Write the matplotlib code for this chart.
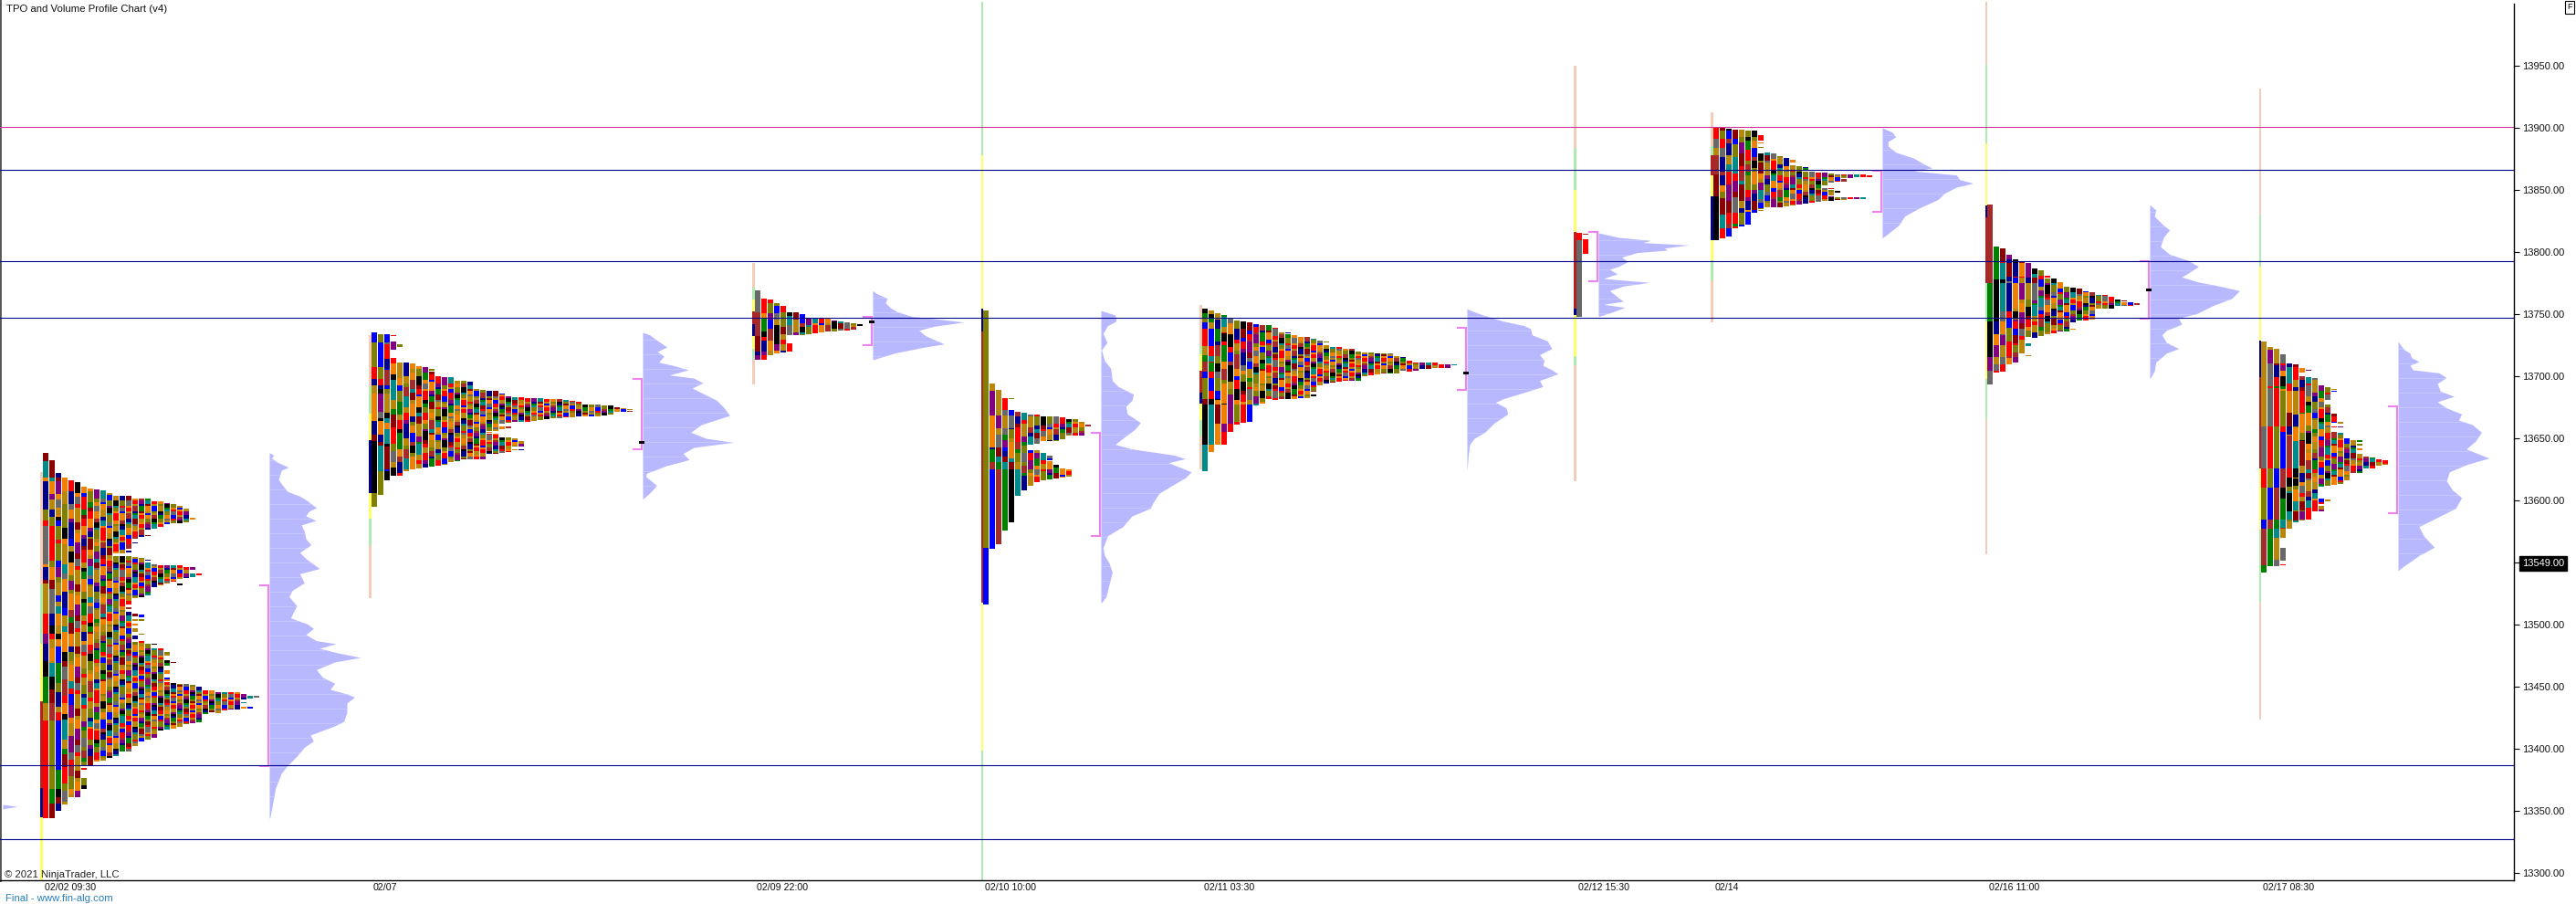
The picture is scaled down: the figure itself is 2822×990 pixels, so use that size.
import numpy as np
from matplotlib import pyplot as plt

plt.rcParams['font.family'] = ['Liberation Sans', 'DejaVu Sans']

# price ticks and fixed levels
price_ticks = [13300, 13350, 13400, 13450, 13500, 13550, 13600, 13650, 13700, 13750, 13800, 13850, 13900, 13950]
level_magenta = [13900.5]
levels_navy = [13865.7, 13792.1, 13746.6, 13386.3, 13326.7]
last_price = 13549.0

# one row is a third of a screen pixel of price, rows are counted down from each profile's base price
ROW = 0.2451
VOL_PER_SLOT = 21.0

slot_labels = ["02/02 09:30", "02/07", "02/09 22:00", "02/10 10:00", "02/11 03:30", "02/12 15:30", "02/14", "02/16 11:00", "02/17 08:30"]

# --------- 02/02
p1_base = 13649.8
p1_slot = 6.714
p1_vp_slot = 42.14
p1_cols = [[(48, 1247)], [(72, 1247)], [(113, 1223)], [(128, 1202)], [(138, 1180)], [(145, 1180)],
           [(158, 1075), (1083, 1088), (1116, 1152)], [(165, 1075)], [(168, 1062)], [(172, 1058)], [(180, 1050)],
           [(190, 378), (388, 1043)], [(189, 378), (388, 1028)], [(189, 345), (335, 362), (368, 375), (388, 545), (554, 560), (570, 1028)],
           [(198, 330), (342, 345), (391, 525), (575, 585), (595, 600), (608, 615), (625, 635), (648, 660), (668, 1010)],
           [(198, 323), (393, 522), (580, 588), (595, 600), (642, 645), (665, 995)],
           [(199, 300), (318, 320), (400, 402), (408, 515), (675, 990)],
           [(207, 296), (415, 490), (675, 678), (690, 985)], [(207, 290), (418, 484), (690, 960)],
           [(213, 282), (418, 478), (703, 714), (730, 746), (762, 773), (786, 798), (802, 958)],
           [(216, 278), (418, 472), (735, 738), (805, 955)], [(222, 278), (418, 462), (478, 482), (806, 948)],
           [(232, 275), (423, 460), (807, 940)], [(261, 266), (423, 432), (445, 456), (810, 935)],
           [(445, 450), (817, 932)], [(829, 905)], [(829, 900)], [(835, 902)], [(835, 895)], [(835, 892)], [(835, 890)],
           [(840, 858), (866, 870), (883, 888)], [(845, 855), (883, 888)], [(846, 851)]]
p1_lead = [(0, 48, 75, 'A'), (0, 75, 128, 'B'), (0, 128, 140, 'H'), (0, 140, 234, 'C'), (0, 234, 270, 'J'), (0, 270, 288, 'G'),
           (0, 288, 414, 'L'), (0, 414, 423, 'H'), (0, 423, 465, 'C'), (0, 465, 478, 'A'), (0, 478, 575, 'I'), (0, 575, 643, 'G'),
           (0, 643, 675, 'F'), (0, 675, 732, 'C'), (0, 732, 783, 'E'), (0, 783, 870, 'K'), (0, 870, 927, 'I'), (0, 927, 1247, 'G'),
           (1, 72, 128, 'A'), (1, 128, 140, 'B'), (1, 140, 183, 'H'), (1, 183, 202, 'F'), (1, 202, 234, 'I'), (1, 234, 258, 'C'),
           (1, 258, 288, 'J'), (1, 288, 402, 'G'), (1, 402, 423, 'J'), (1, 423, 465, 'H'), (1, 465, 495, 'A'), (1, 495, 575, 'L'),
           (1, 575, 615, 'C'), (1, 615, 643, 'E'), (1, 643, 660, 'G'), (1, 660, 690, 'I'), (1, 690, 732, 'H'), (1, 738, 783, 'B'),
           (1, 783, 825, 'E'), (1, 825, 870, 'A'), (1, 870, 927, 'M'), (1, 927, 1152, 'J'), (1, 1152, 1200, 'K'), (1, 1200, 1247, 'A'),
           (2, 113, 128, 'C'), (2, 128, 140, 'A'), (2, 146, 183, 'F'), (2, 200, 228, 'L'), (2, 234, 252, 'I'), (2, 258, 270, 'E'),
           (2, 270, 288, 'D'), (2, 288, 333, 'J'), (2, 333, 345, 'G'), (2, 345, 402, 'J'), (2, 402, 414, 'D'), (2, 423, 456, 'F'),
           (2, 517, 537, 'D'), (2, 537, 552, 'I'), (2, 577, 615, 'H'), (2, 615, 643, 'I'), (2, 928, 1090, 'D'), (2, 1090, 1152, 'K'),
           (2, 1152, 1180, 'E'), (2, 1180, 1200, 'A'), (2, 1200, 1223, 'C')]
p1_vp_row = [48, 55, 65, 78, 95, 105, 120, 135, 150, 175, 190, 205, 215, 228, 240, 255, 270, 285, 305, 330, 350, 375, 395, 410, 428, 445, 475, 500, 520, 550, 590, 610, 625, 645, 665, 675, 690, 705, 720, 735, 760, 785, 805, 825, 840, 850, 870, 900, 930, 945, 975, 995, 1015, 1045, 1075, 1100, 1150, 1190, 1248]
p1_vp_vol = [0, 15, 7, 25, 63, 40, 35, 30, 40, 60, 100, 125, 137, 155, 130, 120, 153, 105, 115, 120, 137, 100, 120, 140, 165, 100, 115, 75, 65, 90, 70, 125, 145, 120, 155, 220, 165, 225, 300, 215, 155, 175, 215, 200, 255, 280, 255, 255, 245, 215, 135, 145, 115, 90, 60, 40, 20, 13, 2]
p1_va = (483, 1077)
p1_poc = None
p1_session = [(110, 480, 'p'), (480, 675, 'g'), (675, 865, 'y'), (865, 1150, 'r'), (1150, 1245, 'n'), (1245, 1452, 'y')]

# --------- 02/07
p2_base = 13752.7
p2_slot = 58.14
p2_vp_slot = 100.57
p2_cols = [[(72, 645)], [(78, 605)], [(78, 558)], [(80, 83), (102, 128), (155, 543)], [(112, 120), (172, 543)], [(172, 528)], [(175, 522)], [(183, 520)], [(186, 515)],
           [(192, 197), (202, 512)], [(216, 510)], [(220, 508)], [(220, 498)], [(232, 495)], [(232, 490)], [(235, 490)], [(258, 488)], [(262, 488)],
           [(265, 395), (400, 402), (405, 472)], [(265, 395), (405, 472)], [(272, 372), (382, 390), (418, 468)], [(282, 370), (381, 386), (418, 465)],
           [(285, 365), (420, 448), (455, 458)], [(285, 365), (430, 447), (455, 458)], [(288, 365)], [(288, 362)], [(288, 360)], [(292, 357)], [(292, 355)], [(292, 354)],
           [(295, 352)], [(297, 350)], [(300, 348)], [(310, 348)], [(310, 347)], [(310, 347)], [(312, 345)], [(312, 342)], [(318, 332)], [(320, 332)], [(324, 327), (330, 332)]]
p2_lead = [(0, 72, 105, 'D'), (0, 105, 185, 'J'), (0, 185, 225, 'G'), (0, 225, 247, 'C'), (0, 247, 272, 'I'), (0, 272, 362, 'H'), (0, 362, 408, 'C'), (0, 408, 430, 'A'), (0, 430, 600, 'E'), (0, 600, 645, 'J'),
           (1, 78, 105, 'J'), (1, 105, 185, 'D'), (1, 185, 225, 'J'), (1, 225, 247, 'G'), (1, 247, 258, 'C'), (1, 258, 272, 'E'), (1, 272, 332, 'F'), (1, 332, 355, 'L'), (1, 355, 362, 'E'), (1, 362, 408, 'H'), (1, 408, 432, 'C'), (1, 432, 445, 'A'), (1, 445, 528, 'B'), (1, 528, 605, 'J'),
           (2, 78, 105, 'D'), (2, 110, 158, 'G'), (2, 195, 245, 'M'), (2, 272, 330, 'I'), (2, 370, 390, 'H'), (2, 448, 522, 'A'), (2, 528, 558, 'E')]
p2_vp_row = [72, 80, 95, 120, 135, 150, 170, 180, 195, 212, 222, 238, 255, 275, 295, 320, 345, 375, 400, 420, 433, 450, 470, 490, 510, 535, 545, 575, 600, 620]
p2_vp_vol = [0, 23, 43, 80, 48, 70, 53, 98, 150, 88, 168, 198, 163, 203, 243, 268, 286, 193, 158, 208, 298, 168, 133, 153, 78, 13, 10, 46, 23, 0]
p2_va = (225, 456)
p2_poc = 433
p2_session = [(80, 250, 'p'), (250, 340, 'g'), (340, 425, 'y'), (425, 600, 'n'), (600, 685, 'y'), (685, 770, 'g'), (770, 945, 'p')]

# --------- 02/09
p3_base = 13796.8
p3_slot = 118.14
p3_vp_slot = 136.57
p3_cols = [[(113, 342)], [(140, 342)], [(145, 327)], [(155, 322)], [(165, 318)], [(185, 262), (288, 315)], [(186, 260)], [(192, 262)], [(207, 258)], [(207, 255)], [(205, 252)], [(205, 250)], [(212, 248)], [(215, 245)], [(220, 245)], [(222, 243)], [(225, 231)]]
p3_lead = [(0, 113, 187, 'L'), (0, 187, 265, 'M'), (0, 265, 315, 'A'), (0, 315, 328, 'C'), (0, 328, 342, 'F'),
           (1, 140, 188, 'G'), (1, 208, 248, 'K'), (1, 248, 268, 'E'), (1, 280, 315, 'C'), (1, 315, 328, 'F'), (1, 328, 342, 'G'),
           (2, 145, 157, 'G'), (2, 157, 188, 'J'), (2, 280, 312, 'H'), (3, 165, 188, 'D'), (3, 292, 312, 'F'), (4, 165, 185, 'G'), (4, 292, 312, 'I'), (5, 288, 315, 'G')]
p3_vp_row = [115, 125, 140, 155, 170, 185, 200, 208, 218, 232, 245, 262, 280, 290, 300, 320, 342]
p3_vp_vol = [0, 14, 47, 42, 57, 82, 132, 212, 300, 202, 152, 172, 212, 235, 172, 72, 0]
p3_va = (200, 295)
p3_poc = 217
p3_session = [(25, 105, 'p'), (105, 145, 'g'), (145, 182, 'y'), (182, 225, 'r'), (225, 265, 'n'), (265, 305, 'y'), (305, 342, 'g'), (342, 422, 'p')]

# --------- 02/10
p4_base = 13767.4
p4_slot = 153.86
p4_vp_slot = 172.29
p4_cols = [[(60, 1026)], [(300, 842)], [(322, 828)], [(348, 782)], [(348, 351), (388, 755)], [(393, 668)], [(397, 650)], [(402, 500), (520, 635)], [(402, 497), (520, 625)],
           [(408, 490), (528, 618)], [(408, 490), (538, 552), (555, 615)], [(408, 490), (568, 612)], [(410, 482), (580, 610)], [(416, 472), (582, 606)], [(418, 470)], [(425, 470)], [(435, 441)]]
p4_lead = [(0, 60, 840, 'J'), (0, 840, 1026, 'D'),
           (1, 300, 323, 'I'), (1, 323, 405, 'F'), (1, 405, 510, 'H'), (1, 510, 516, 'C'), (1, 516, 558, 'K'), (1, 558, 582, 'M'), (1, 582, 842, 'D'),
           (2, 322, 405, 'I'), (2, 405, 447, 'F'), (2, 447, 468, 'I'), (2, 468, 510, 'L'), (2, 516, 540, 'A'), (2, 540, 558, 'B'), (2, 558, 582, 'K'), (2, 582, 828, 'M'),
           (3, 348, 388, 'G'), (3, 388, 405, 'L'), (3, 405, 447, 'I'), (3, 447, 468, 'L'), (3, 487, 510, 'F'), (3, 522, 540, 'C'), (3, 540, 558, 'A'), (3, 558, 582, 'B'), (3, 582, 782, 'K'),
           (4, 405, 447, 'L'), (4, 558, 582, 'A'), (4, 582, 755, 'E'), (5, 582, 668, 'B'), (6, 602, 650, 'C'), (7, 602, 635, 'I')]
p4_vp_row = [60, 75, 95, 110, 135, 165, 190, 225, 250, 290, 310, 335, 355, 375, 400, 428, 450, 480, 500, 515, 535, 547, 560, 590, 610, 630, 660, 690, 710, 735, 770, 800, 840, 865, 890, 920, 960, 1000, 1020]
p4_vp_vol = [0, 47, 50, 22, 7, 20, 2, 12, 32, 37, 57, 107, 102, 82, 87, 130, 112, 72, 47, 102, 240, 277, 222, 297, 277, 242, 192, 172, 162, 102, 72, 22, 7, 12, 27, 37, 27, 17, 2]
p4_va = (462, 800)
p4_poc = None
p4_session = [(-954, -450, 'g'), (-450, 55, 'y'), (55, 130, 'n'), (130, 1020, 'r'), (1020, 1505, 'y'), (1505, 1932, 'g')]

# --------- 02/11
p5_base = 13767.4
p5_slot = 188.14
p5_vp_slot = 229.57
p5_cols = [[(54, 588)], [(60, 525)], [(68, 500)], [(75, 80), (82, 500)], [(88, 458)], [(92, 435)], [(95, 428)], [(98, 426)], [(105, 372)], [(108, 365)], [(108, 350)], [(117, 353)], [(132, 350)],
           [(132, 135), (138, 350)], [(140, 350)], [(147, 348)], [(147, 348)], [(152, 328), (336, 342)], [(158, 305)], [(162, 165), (173, 300)], [(180, 298)], [(181, 295)], [(185, 292)], [(185, 292)], [(195, 290)],
           [(198, 275)], [(198, 272)], [(201, 270)], [(201, 268)], [(201, 268)], [(210, 266)], [(212, 258)], [(225, 262)], [(230, 258)], [(232, 251)], [(232, 251)], [(232, 250)], [(237, 248)], [(237, 248)], [(237, 240)]]
p5_lead = [(0, 54, 70, 'E'), (0, 70, 85, 'K'), (0, 100, 120, 'D'), (0, 120, 178, 'G'), (0, 208, 228, 'K'), (0, 228, 258, 'M'), (0, 262, 282, 'D'), (0, 282, 350, 'J'), (0, 370, 500, 'E'), (0, 500, 588, 'B'),
           (1, 60, 72, 'I'), (1, 72, 85, 'E'), (1, 87, 98, 'K'), (1, 120, 178, 'D'), (1, 210, 228, 'B'), (1, 230, 262, 'K'), (1, 262, 282, 'G'), (1, 282, 325, 'D'), (1, 325, 350, 'G'), (1, 350, 368, 'E'), (1, 370, 500, 'B'), (1, 500, 525, 'H'),
           (2, 120, 162, 'K'), (2, 235, 262, 'E'), (2, 282, 325, 'J'), (2, 325, 350, 'D'), (2, 370, 432, 'A'), (2, 432, 500, 'H'),
           (3, 135, 162, 'E'), (3, 370, 432, 'H'), (3, 432, 458, 'F'), (3, 458, 500, 'G'),
           (4, 370, 432, 'F'), (4, 432, 458, 'G'), (5, 370, 425, 'J'), (5, 425, 435, 'G'), (6, 370, 428, 'G'), (7, 370, 426, 'D')]
p5_vp_row = [55, 70, 80, 95, 110, 120, 140, 160, 185, 205, 225, 240, 255, 268, 290, 310, 335, 350, 362, 380, 400, 430, 460, 480, 500, 540, 588]
p5_vp_vol = [0, 39, 69, 119, 189, 209, 214, 264, 279, 239, 254, 249, 279, 299, 239, 249, 169, 119, 94, 129, 134, 89, 59, 24, 9, 4, 0]
p5_va = (117, 320)
p5_poc = 265
p5_session = [(42, 178, 'p'), (178, 205, 'g'), (205, 258, 'y'), (258, 330, 'r'), (330, 365, 'n'), (365, 420, 'y'), (420, 475, 'g'), (475, 582, 'p')]

# --------- 02/12
p6_base = 13929.2
p6_slot = 246.71
p6_vp_slot = 250.14
p6_cols = [[(465, 740)], [(468, 471), (486, 533)]]
p6_lead = [(0, 465, 490, 'G'), (0, 490, 740, 'L'), (1, 468, 471, 'M'), (1, 486, 533, 'G')]
p6_vp_row = [465, 480, 490, 497, 505, 515, 522, 530, 545, 560, 575, 585, 600, 615, 628, 640, 655, 675, 690, 700, 710, 725, 740]
p6_vp_vol = [0, 67, 172, 147, 297, 217, 227, 127, 77, 97, 67, 37, 62, 17, 167, 82, 37, 62, 82, 17, 87, 47, 0]
p6_va = (463, 624)
p6_poc = None
p6_session = [(-84, 185, 'p'), (185, 325, 'g'), (325, 462, 'y'), (462, 715, 'r'), (715, 735, 'n'), (735, 870, 'y'), (870, 900, 'g'), (900, 1281, 'p')]

# --------- 02/14
p7_base = 13929.2
p7_slot = 268.14
p7_vp_slot = 294.57
p7_cols = [[(120, 488)], [(120, 483)], [(123, 477)], [(126, 450)], [(127, 445)], [(128, 438)], [(130, 400)], [(145, 162), (168, 172), (183, 186), (205, 388), (390, 393)], [(202, 382)], [(205, 380)], [(212, 380)], [(220, 378)], [(225, 235), (242, 375)], [(245, 372)],
           [(248, 262), (265, 368)], [(265, 365)], [(268, 362)], [(268, 308), (318, 360)], [(270, 300), (318, 322), (325, 342), (345, 360)], [(272, 298), (328, 333), (348, 358)], [(272, 285), (288, 296), (348, 358)], [(274, 284), (349, 354)], [(274, 283), (349, 354)], [(274, 281), (349, 353)], [(277, 281)]]
p7_lead = [(0, 120, 157, 'G'), (0, 157, 185, 'L'), (0, 185, 210, 'I'), (0, 210, 272, 'M'), (0, 272, 345, 'A'), (0, 345, 488, 'E'),
           (1, 120, 128, 'A'), (1, 128, 155, 'J'), (1, 155, 185, 'G'), (1, 185, 215, 'L'), (1, 215, 265, 'C'), (1, 275, 310, 'C'), (1, 310, 330, 'H'), (1, 350, 405, 'A'), (1, 405, 450, 'B'), (1, 450, 483, 'G'),
           (2, 130, 155, 'D'), (2, 155, 172, 'M'), (2, 172, 210, 'C'), (2, 305, 345, 'F'), (2, 360, 400, 'A'), (2, 400, 435, 'G'), (2, 450, 477, 'D'), (3, 400, 435, 'G'), (4, 400, 430, 'J'), (5, 395, 438, 'D')]
p7_vp_row = [120, 135, 150, 165, 180, 200, 220, 240, 252, 262, 275, 290, 302, 315, 335, 355, 385, 410, 440, 460, 482]
p7_vp_vol = [0, 34, 44, 19, 19, 44, 104, 139, 164, 104, 244, 254, 299, 244, 204, 184, 119, 74, 54, 29, 0]
p7_va = (262, 396)
p7_poc = None
p7_session = [(70, 180, 'p'), (180, 210, 'g'), (210, 275, 'r'), (275, 345, 'y'), (345, 488, 'n'), (488, 555, 'y'), (555, 622, 'g'), (622, 760, 'p')]

# --------- 02/16
p8_base = 13840.9
p8_slot = 311.0
p8_vp_slot = 336.43
p8_cols = [[(12, 602)], [(150, 563)], [(155, 560)], [(177, 537)], [(192, 530)], [(198, 502)], [(203, 448), (468, 476), (507, 510)], [(222, 450)], [(228, 443)], [(246, 252), (255, 438)], [(255, 435)], [(267, 430)], [(283, 428)], [(285, 398), (420, 423)],
           [(288, 392)], [(296, 392)], [(300, 390)], [(309, 355)], [(309, 355)], [(315, 353)], [(323, 346)], [(327, 330), (333, 346)], [(333, 345)], [(336, 342)]]
p8_lead = [(0, 12, 270, 'M'), (0, 270, 395, 'K'), (0, 395, 513, 'E'), (0, 513, 558, 'F'), (0, 558, 602, 'L'),
           (1, 150, 258, 'K'), (1, 258, 395, 'E'), (1, 395, 438, 'C'), (1, 438, 474, 'H'), (1, 474, 513, 'F'), (1, 513, 537, 'I'), (1, 537, 557, 'L'), (1, 557, 563, 'G'),
           (2, 155, 200, 'A'), (2, 205, 258, 'B'), (2, 258, 270, 'E'), (2, 270, 362, 'B'), (2, 362, 395, 'L'), (2, 395, 438, 'H'), (2, 440, 474, 'F'), (2, 474, 513, 'I'), (2, 513, 537, 'L'), (2, 537, 560, 'G'),
           (3, 177, 192, 'F'), (3, 192, 205, 'C'), (3, 205, 248, 'A'), (3, 270, 362, 'C'), (3, 362, 385, 'G'), (3, 397, 418, 'D'), (3, 420, 440, 'J'), (3, 474, 507, 'G'), (3, 515, 537, 'H'),
           (4, 205, 248, 'C'), (4, 270, 355, 'H'), (4, 362, 385, 'E'), (4, 397, 420, 'G'), (4, 420, 440, 'D'), (4, 474, 498, 'J'), (4, 514, 530, 'F'),
           (5, 205, 248, 'H'), (5, 270, 325, 'F'), (6, 205, 248, 'F'), (6, 270, 325, 'I'), (7, 270, 328, 'L'), (8, 228, 245, 'J')]
p8_vp_row = [12, 30, 50, 65, 80, 95, 120, 150, 175, 195, 215, 235, 250, 265, 283, 295, 320, 345, 370, 385, 405, 425, 440, 465, 485, 500, 530, 560, 585]
p8_vp_vol = [0, 20, 15, 30, 45, 65, 45, 35, 65, 125, 160, 130, 105, 155, 245, 295, 270, 205, 155, 95, 105, 55, 40, 55, 95, 55, 20, 15, 0]
p8_va = (197, 387)
p8_poc = 292
p8_session = [(-654, -450, 'p'), (-450, -189, 'g'), (-189, 15, 'y'), (15, 55, 'n'), (55, 270, 'r'), (270, 395, 'g'), (395, 585, 'y'), (585, 720, 'g'), (720, 1161, 'p')]

# --------- 02/17
p9_base = 13738.0
p9_slot = 353.86
p9_vp_slot = 375.29
p9_cols = [[(42, 800)], [(60, 780)], [(66, 780)], [(84, 686), (720, 762), (773, 777)], [(114, 656)], [(117, 635)], [(128, 144), (155, 630)], [(135, 138), (159, 627)], [(163, 600)], [(186, 520), (558, 575), (582, 600)],
           [(192, 235), (250, 515), (560, 567)], [(198, 202), (205, 208), (280, 310), (320, 325), (340, 512)], [(306, 311), (320, 324), (342, 510)], [(360, 497)], [(365, 475)], [(367, 372), (378, 385), (392, 398), (410, 475)], [(420, 458)], [(422, 458)], [(428, 450)], [(432, 447)]]
p9_lead = [(0, 42, 320, 'I'), (0, 320, 458, 'L'), (0, 458, 522, 'G'), (0, 522, 628, 'J'), (0, 628, 658, 'D'), (0, 658, 778, 'M'), (0, 778, 800, 'K'),
           (1, 60, 70, 'I'), (1, 70, 115, 'F'), (1, 115, 190, 'L'), (1, 195, 320, 'L'), (1, 320, 458, 'G'), (1, 458, 522, 'J'), (1, 522, 628, 'D'), (1, 628, 658, 'M'), (1, 658, 780, 'K'),
           (2, 66, 115, 'I'), (2, 120, 158, 'C'), (2, 158, 188, 'G'), (2, 195, 320, 'G'), (2, 320, 458, 'J'), (2, 458, 522, 'D'), (2, 522, 628, 'M'), (2, 628, 658, 'K'), (2, 658, 688, 'B'), (2, 688, 758, 'I'), (2, 760, 780, 'L'),
           (3, 84, 115, 'L'), (3, 120, 138, 'F'), (3, 138, 156, 'H'), (3, 156, 188, 'E'), (3, 205, 320, 'J'), (3, 340, 458, 'D'), (3, 458, 522, 'M'), (3, 522, 558, 'E'), (3, 558, 628, 'K'), (3, 628, 655, 'B'), (3, 658, 686, 'I'), (3, 720, 762, 'L'), (3, 773, 777, 'G'),
           (4, 205, 275, 'H'), (4, 275, 320, 'A'), (4, 350, 458, 'M'), (4, 490, 520, 'E'), (4, 540, 600, 'E'), (4, 600, 628, 'B'), (4, 632, 656, 'I'),
           (5, 205, 275, 'I'), (5, 282, 320, 'C'), (5, 370, 458, 'B'), (5, 460, 490, 'E'), (5, 568, 598, 'B'), (5, 600, 630, 'A'),
           (6, 235, 275, 'G'), (6, 278, 320, 'H'), (6, 370, 450, 'A'), (6, 568, 598, 'A'), (6, 600, 628, 'F')]
p9_vp_row = [42, 68, 80, 95, 108, 120, 135, 145, 160, 180, 205, 222, 240, 260, 280, 300, 315, 340, 370, 395, 425, 445, 470, 500, 530, 555, 590, 620, 650, 680, 718, 745, 780, 795]
p9_vp_vol = [0, 19, 39, 44, 69, 39, 49, 134, 159, 129, 139, 184, 129, 159, 209, 199, 244, 274, 254, 224, 299, 229, 169, 159, 179, 209, 189, 129, 69, 84, 119, 69, 19, 0]
p9_va = (254, 606)
p9_poc = None
p9_session = [(-789, -375, 'p'), (-375, -204, 'g'), (-204, 40, 'y'), (40, 160, 'n'), (160, 458, 'r'), (458, 660, 'y'), (660, 900, 'g'), (900, 1284, 'p')]

# tail of the profile that starts before the left edge
p0_vp_slot = 0.43
p0_vp_row = [1203, 1207, 1210, 1214, 1218]
p0_vp_vol = [0, 30, 48, 20, 0]

PROFILES = [
    dict(base=p1_base, slot=p1_slot, vp_slot=p1_vp_slot, cols=p1_cols, lead=p1_lead, row=p1_vp_row, vol=p1_vp_vol, va=p1_va, poc=p1_poc, session=p1_session),
    dict(base=p2_base, slot=p2_slot, vp_slot=p2_vp_slot, cols=p2_cols, lead=p2_lead, row=p2_vp_row, vol=p2_vp_vol, va=p2_va, poc=p2_poc, session=p2_session),
    dict(base=p3_base, slot=p3_slot, vp_slot=p3_vp_slot, cols=p3_cols, lead=p3_lead, row=p3_vp_row, vol=p3_vp_vol, va=p3_va, poc=p3_poc, session=p3_session),
    dict(base=p4_base, slot=p4_slot, vp_slot=p4_vp_slot, cols=p4_cols, lead=p4_lead, row=p4_vp_row, vol=p4_vp_vol, va=p4_va, poc=p4_poc, session=p4_session),
    dict(base=p5_base, slot=p5_slot, vp_slot=p5_vp_slot, cols=p5_cols, lead=p5_lead, row=p5_vp_row, vol=p5_vp_vol, va=p5_va, poc=p5_poc, session=p5_session),
    dict(base=p6_base, slot=p6_slot, vp_slot=p6_vp_slot, cols=p6_cols, lead=p6_lead, row=p6_vp_row, vol=p6_vp_vol, va=p6_va, poc=p6_poc, session=p6_session),
    dict(base=p7_base, slot=p7_slot, vp_slot=p7_vp_slot, cols=p7_cols, lead=p7_lead, row=p7_vp_row, vol=p7_vp_vol, va=p7_va, poc=p7_poc, session=p7_session),
    dict(base=p8_base, slot=p8_slot, vp_slot=p8_vp_slot, cols=p8_cols, lead=p8_lead, row=p8_vp_row, vol=p8_vp_vol, va=p8_va, poc=p8_poc, session=p8_session),
    dict(base=p9_base, slot=p9_slot, vp_slot=p9_vp_slot, cols=p9_cols, lead=p9_lead, row=p9_vp_row, vol=p9_vp_vol, va=p9_va, poc=p9_poc, session=p9_session),
]

LETTER_COLORS = dict(A='#8B0000', B='#008B8B', C='#00008B', D='#0000FF', E='#000000', F='#800080', G='#FF0000',
                     H='#F08000', I='#B8860B', J='#808000', K='#008000', L='#696969', M='#A52A2A')
LETTERS = list('GIJHCLMAGKIFHJBDE')
PHASE_COLORS = dict(p='#F3CDB8', g='#AEEBAE', y='#FFFF66', r='#B22222', n='#00008B')
VP_COLOR = '#B8B8FF'
VP_ROW_COLOR = '#CDCDFF'
VA_COLOR = '#EE82EE'
CELL_STEPS = [1.2, 0.5, 0.9, 0.35, 1.5, 0.7, 0.45, 1.0]
STRIPE = 6

W, H = 2822, 990
PX_PER_SLOT = 7.0
AX_RIGHT = 2754
AX_BOTTOM = 964
PRICE_TOP = 14002.7
PRICE_BOTTOM = 13293.9


def split_segment(col, start, end):
    """cuts one column segment in cells, tall near the left of a profile and thin further out,
    the edges sit on a common grid so the thin cells line up across columns as stripes"""
    size = max(9.0, 120.0 / (1 + 0.6 * col))
    cells = []
    k = int(start / STRIPE)
    pos = start
    while pos < end:
        step = max(STRIPE, size * CELL_STEPS[k % len(CELL_STEPS)])
        nxt = STRIPE * round((pos + step) / STRIPE)
        if nxt <= pos:
            nxt += STRIPE
        if end - nxt < 3:
            nxt = end
        nxt = min(end, nxt)
        cells.append((pos, nxt, int(pos / STRIPE)))
        pos = nxt
        k += 1
    return cells


fig = plt.figure(figsize=(W / 100, H / 100), dpi=100)
ax = fig.add_axes([0, (H - AX_BOTTOM) / H, AX_RIGHT / W, AX_BOTTOM / H])
ax.set_xlim(0, AX_RIGHT / PX_PER_SLOT)
ax.set_ylim(PRICE_BOTTOM, PRICE_TOP)

xs, bottoms, heights, colors = [], [], [], []
for n, prof in enumerate(PROFILES):
    base = prof['base']
    for a, b, phase in prof['session']:
        ax.bar(prof['slot'] - 2.5 / PX_PER_SLOT, (b - a) * ROW, bottom=base - b * ROW, width=2.5 / PX_PER_SLOT,
               align='edge', color=PHASE_COLORS[phase], linewidth=0, zorder=1)
    for j, segs in enumerate(prof['cols']):
        for s, (a, b) in enumerate(segs):
            for lo, hi, k in split_segment(j, a, b):
                xs.append(prof['slot'] + j)
                bottoms.append(base - hi * ROW)
                heights.append((hi - lo) * ROW)
                colors.append(LETTER_COLORS[LETTERS[(k * 5 + j * 3 + n * 2) % len(LETTERS)]])
    for j, a, b, letter in prof['lead']:
        xs.append(prof['slot'] + j)
        bottoms.append(base - b * ROW)
        heights.append((b - a) * ROW)
        colors.append(LETTER_COLORS[letter])
    # volume profile
    rows = np.array(prof['row'], dtype=float)
    vols = np.array(prof['vol'], dtype=float)
    ax.fill_betweenx(base - rows * ROW, prof['vp_slot'], prof['vp_slot'] + vols / VOL_PER_SLOT, color=VP_COLOR, linewidth=0, zorder=2)
    marks = np.arange(rows[0] + 24, rows[-1], 48)
    ax.hlines(base - marks * ROW, prof['vp_slot'], prof['vp_slot'] + np.interp(marks, rows, vols) / VOL_PER_SLOT, color=VP_ROW_COLOR, lw=0.5, zorder=2)
    # value area bracket
    va_hi, va_lo = base - prof['va'][0] * ROW, base - prof['va'][1] * ROW
    vx = prof['vp_slot'] - 1 / PX_PER_SLOT
    ax.plot([vx - 9 / PX_PER_SLOT, vx, vx, vx - 9 / PX_PER_SLOT], [va_hi, va_hi, va_lo, va_lo], color=VA_COLOR, lw=1.5, zorder=3, solid_joinstyle='miter')
    if prof['poc'] is not None:
        ax.bar(prof['vp_slot'] - 4 / PX_PER_SLOT, 2.4, bottom=base - prof['poc'] * ROW - 1.2, width=6 / PX_PER_SLOT,
               align='edge', color='black', linewidth=0, zorder=4)

ax.bar(xs, heights, bottom=bottoms, width=6 / PX_PER_SLOT, align='edge', color=colors, linewidth=0, zorder=2)

ax.fill_betweenx(p1_base - np.array(p0_vp_row) * ROW, p0_vp_slot, p0_vp_slot + np.array(p0_vp_vol) / VOL_PER_SLOT, color=VP_COLOR, linewidth=0)

for lv in levels_navy:
    ax.axhline(lv, color='#00008B', lw=0.8, zorder=5)
for lv in level_magenta:
    ax.axhline(lv, color='#CC3399', lw=0.8, zorder=5)

# axes furniture
ax.spines['top'].set_visible(False)
ax.spines['right'].set_bounds(PRICE_BOTTOM, 13999.8)
ax.spines['right'].set_linewidth(1.0)
ax.spines['bottom'].set_linewidth(1.0)
ax.spines['left'].set_color('#555555')
ax.spines['left'].set_linewidth(2.0)
ax.yaxis.tick_right()
ax.set_yticks(price_ticks)
ax.set_yticklabels([f"{p:.2f}" for p in price_ticks], fontsize=8, color='#111111')
ax.tick_params(axis='y', length=4.5, width=0.8, pad=2)
ax.set_xticks([p['slot'] + 2 / PX_PER_SLOT for p in PROFILES])
ax.set_xticklabels(slot_labels, fontsize=7.7, ha='left', color='#111111')
ax.tick_params(axis='x', length=0, pad=2.5)

ax.text(AX_RIGHT / PX_PER_SLOT + 9 / PX_PER_SLOT, last_price, f"{last_price:.2f}", color='white', fontsize=8, va='center', ha='left',
        clip_on=False, zorder=6, bbox=dict(facecolor='black', edgecolor='black', pad=2))

fig.text(7 / W, 1 - 10 / H, "TPO and Volume Profile Chart (v4)", fontsize=8.2, va='center', color='#111111')
fig.text(5 / W, 1 - 958 / H, "\u00a9 2021 NinjaTrader, LLC", fontsize=8.2, va='center', color='#222222')
fig.text(6 / W, 1 - 984 / H, "Final - www.fin-alg.com", fontsize=8.2, va='center', color='#2B7FB8')
fig.text(2815 / W, 1 - 8 / H, "F", fontsize=6.5, va='center', ha='center', color='black',
         bbox=dict(facecolor='white', edgecolor='black', linewidth=0.8, pad=1.5))

fig.savefig('out.png', dpi=100)
